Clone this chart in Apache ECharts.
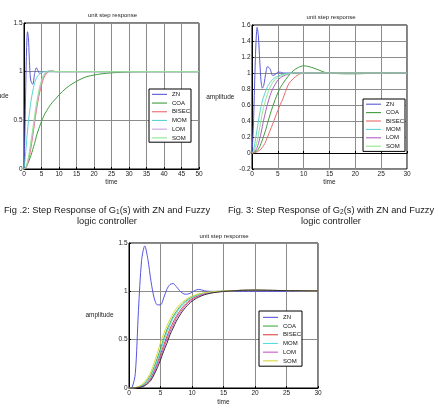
<!DOCTYPE html>
<html>
<head>
<meta charset="utf-8">
<script src="https://cdn.jsdelivr.net/npm/echarts@6/dist/echarts.min.js"></script>
<style>
  html, body { margin: 0; padding: 0; background: #fff; }
  #chart { width: 439px; height: 417px; }
</style>
</head>
<body>
<div id="chart"></div>
<script>
// ---- data ----
var legendNames = ['ZN', 'COA', 'BISEC', 'MOM', 'LOM', 'SOM'];

// Fig 2 : G1(s)
var t1 = [0, 0.25, 0.5, 0.75, 1, 1.25, 1.5, 1.75, 2, 2.5, 3, 3.5, 4, 4.5, 5, 5.5, 6, 6.5, 7, 8, 9, 10, 12, 14, 16, 18, 20, 22, 25, 30, 35, 40, 50];
var zn1 = [0, 0.35, 0.85, 1.25, 1.41, 1.35, 1.15, 0.97, 0.9, 0.87, 0.97, 1.04, 1.01, 0.98, 0.99, 1, 1, 1, 1, 1, 1, 1, 1, 1, 1, 1, 1, 1, 1, 1, 1, 1, 1];
var coa1 = [0, 0.005, 0.015, 0.03, 0.05, 0.07, 0.09, 0.115, 0.14, 0.2, 0.26, 0.33, 0.39, 0.44, 0.49, 0.53, 0.57, 0.6, 0.63, 0.68, 0.72, 0.76, 0.83, 0.88, 0.92, 0.95, 0.965, 0.977, 0.988, 0.997, 1, 1, 1];
var bisec1 = [0, 0.003, 0.01, 0.025, 0.05, 0.08, 0.12, 0.17, 0.22, 0.34, 0.47, 0.59, 0.7, 0.79, 0.86, 0.92, 0.96, 0.985, 1.0, 1.01, 1.0, 1, 1, 1, 1, 1, 1, 1, 1, 1, 1, 1, 1];
var mom1 = [0, 0.08, 0.18, 0.29, 0.39, 0.48, 0.56, 0.63, 0.7, 0.8, 0.88, 0.93, 0.96, 0.98, 0.99, 1.0, 1.0, 1.0, 1.0, 1, 1, 1, 1, 1, 1, 1, 1, 1, 1, 1, 1, 1, 1];
var lom1 = [0, 0.004, 0.015, 0.035, 0.065, 0.1, 0.145, 0.2, 0.25, 0.37, 0.5, 0.62, 0.73, 0.82, 0.89, 0.94, 0.975, 0.995, 1.005, 1.01, 1.0, 1, 1, 1, 1, 1, 1, 1, 1, 1, 1, 1, 1];
var som1 = [0, 0.006, 0.02, 0.045, 0.08, 0.12, 0.17, 0.23, 0.29, 0.41, 0.54, 0.66, 0.76, 0.85, 0.91, 0.96, 0.985, 1.0, 1.01, 1.005, 1.0, 1, 1, 1, 1, 1, 1, 1, 1, 1, 1, 1, 1];

// Fig 3 : G2(s)
var t2 = [0, 0.25, 0.5, 0.75, 1, 1.25, 1.5, 1.75, 2, 2.25, 2.5, 2.75, 3, 3.5, 4, 4.5, 5, 5.5, 6, 7, 8, 9, 10, 11, 12, 13, 14, 15, 16, 18, 20, 25, 30];
var zn2 = [0, 0.3, 0.85, 1.35, 1.57, 1.45, 1.15, 0.9, 0.81, 0.84, 0.93, 1.03, 1.08, 1.05, 0.97, 0.98, 1.01, 1.01, 1.0, 1.0, 1, 1, 1, 1, 1, 1, 1, 1, 1, 1, 1, 1, 1];
var coa2 = [0, 0.003, 0.01, 0.02, 0.03, 0.05, 0.08, 0.12, 0.16, 0.21, 0.26, 0.31, 0.37, 0.48, 0.58, 0.67, 0.75, 0.82, 0.87, 0.96, 1.03, 1.07, 1.09, 1.08, 1.06, 1.035, 1.01, 1.0, 0.995, 0.99, 0.99, 1.0, 1.0];
var bisec2 = [0, 0.001, 0.004, 0.008, 0.015, 0.025, 0.035, 0.05, 0.07, 0.095, 0.12, 0.16, 0.2, 0.28, 0.36, 0.45, 0.53, 0.61, 0.68, 0.85, 0.93, 0.98, 1.0, 1, 1, 1, 1, 1, 1, 1, 1, 1, 1];
var mom2 = [0, 0.03, 0.1, 0.2, 0.3, 0.4, 0.5, 0.58, 0.65, 0.7, 0.75, 0.79, 0.83, 0.88, 0.92, 0.945, 0.96, 0.975, 0.985, 0.995, 1, 1, 1, 1, 1, 1, 1, 1, 1, 1, 1, 1, 1];
var lom2 = [0, 0.005, 0.02, 0.04, 0.07, 0.12, 0.18, 0.25, 0.33, 0.41, 0.48, 0.55, 0.61, 0.72, 0.8, 0.86, 0.91, 0.94, 0.96, 0.985, 1.0, 1, 1, 1, 1, 1, 1, 1, 1, 1, 1, 1, 1];
var som2 = [0, 0.01, 0.04, 0.09, 0.15, 0.23, 0.32, 0.41, 0.5, 0.57, 0.63, 0.69, 0.74, 0.82, 0.88, 0.92, 0.94, 0.96, 0.975, 0.99, 1.0, 1, 1, 1, 1, 1, 1, 1, 1, 1, 1, 1, 1];

// third plot
var t3 = [0, 0.5, 1, 1.5, 2, 2.5, 3, 3.5, 4, 4.5, 5, 5.5, 6, 6.5, 7, 7.5, 8, 8.5, 9, 9.5, 10, 10.5, 11, 11.5, 12, 13, 14, 15, 16, 17, 18, 20, 22, 25, 30];
var zn3 = [0, 0.01, 0.15, 0.8, 1.32, 1.47, 1.33, 1.1, 0.93, 0.86, 0.86, 0.93, 1.02, 1.07, 1.08, 1.05, 1.01, 0.98, 0.97, 0.975, 0.99, 1.01, 1.02, 1.015, 1.005, 1.0, 1, 1, 1, 1, 1, 1, 1, 1, 1];
var coa3 = [0, 0, 0.003, 0.01, 0.025, 0.05, 0.09, 0.14, 0.22, 0.31, 0.41, 0.51, 0.6, 0.67, 0.74, 0.79, 0.835, 0.87, 0.9, 0.922, 0.94, 0.954, 0.966, 0.975, 0.982, 0.992, 0.998, 1.002, 1.005, 1.008, 1.01, 1.012, 1.01, 1.008, 1.005];
var bisec3 = [0, 0, 0.002, 0.006, 0.016, 0.035, 0.066, 0.11, 0.18, 0.26, 0.35, 0.44, 0.53, 0.61, 0.68, 0.74, 0.79, 0.835, 0.87, 0.9, 0.922, 0.94, 0.955, 0.967, 0.976, 0.988, 0.996, 1.0, 1.005, 1.008, 1.01, 1.012, 1.01, 1.008, 1.005];
var mom3 = [0, 0, 0.002, 0.008, 0.02, 0.042, 0.078, 0.125, 0.2, 0.285, 0.38, 0.48, 0.57, 0.65, 0.72, 0.77, 0.82, 0.86, 0.89, 0.915, 0.935, 0.95, 0.963, 0.973, 0.98, 0.99, 0.997, 1.001, 1.005, 1.008, 1.01, 1.012, 1.01, 1.008, 1.005];
var lom3 = [0, 0, 0.001, 0.005, 0.013, 0.029, 0.056, 0.095, 0.16, 0.24, 0.32, 0.41, 0.5, 0.58, 0.65, 0.72, 0.77, 0.815, 0.855, 0.888, 0.912, 0.932, 0.948, 0.961, 0.971, 0.985, 0.994, 0.999, 1.004, 1.008, 1.01, 1.012, 1.01, 1.008, 1.005];
var som3 = [0, 0, 0.005, 0.015, 0.035, 0.065, 0.11, 0.17, 0.26, 0.36, 0.47, 0.56, 0.64, 0.71, 0.77, 0.82, 0.86, 0.89, 0.915, 0.935, 0.95, 0.962, 0.972, 0.98, 0.986, 0.994, 0.999, 1.002, 1.005, 1.008, 1.01, 1.012, 1.01, 1.008, 1.005];
var k3 = [0, 0, 0.001, 0.004, 0.011, 0.024, 0.047, 0.082, 0.14, 0.21, 0.29, 0.38, 0.46, 0.55, 0.62, 0.69, 0.745, 0.795, 0.835, 0.87, 0.897, 0.92, 0.938, 0.953, 0.965, 0.981, 0.992, 0.998, 1.003, 1.007, 1.01, 1.012, 1.01, 1.008, 1.005];

var colors12 = ['#5a5ad6', '#3f9b3f', '#e86a6a', '#5fd3d3', '#c9a0e0', '#8fe88f'];
var colors2 = ['#5a5ad6', '#3f9b3f', '#e86a6a', '#5fd3d3', '#b05cc8', '#8fe88f'];
var colors3 = ['#5555dd', '#44aa44', '#dd4444', '#55dddd', '#cc55cc', '#d6d63a', '#333333'];

var FONT = 'Liberation Sans';

function pairs(t, y) {
    return t.map(function (v, i) { return [v, y[i]]; });
}

function line(name, idx, t, y, color) {
    return {
        name: name,
        type: 'line',
        xAxisIndex: idx,
        yAxisIndex: idx,
        data: pairs(t, y),
        symbol: 'none',
        showSymbol: false,
        smooth: 0.3,
        color: color,
        lineStyle: { width: 1, color: color },
        emphasis: { disabled: true },
        silent: true
    };
}

function xAx(idx, max, gap) {
    return {
        type: 'value', gridIndex: idx, min: 0, max: max, interval: 5,
        name: 'time', nameLocation: 'middle', nameGap: gap,
        nameTextStyle: { fontSize: 6.5, color: '#222', fontFamily: FONT },
        axisLine: { lineStyle: { color: '#000', width: 1 } },
        axisTick: { inside: true, length: 2, lineStyle: { color: '#000' } },
        axisLabel: { fontSize: 6.5, color: '#222', margin: 2, fontFamily: FONT, interval: 0 },
        splitLine: { show: true, lineStyle: { color: '#8c8c8c', width: 1 } }
    };
}

function yAx(idx, min, max, step, gap, shift) {
    return {
        type: 'value', gridIndex: idx, min: min, max: max, interval: step,
        name: 'amplitude', nameLocation: 'middle', nameRotate: 0, nameGap: gap,
        nameTextStyle: { fontSize: 6.5, color: '#222', fontFamily: FONT, padding: [0, 0, shift, 0] },
        axisLine: { lineStyle: { color: '#000', width: 1 } },
        axisTick: { inside: true, length: 2, lineStyle: { color: '#000' } },
        axisLabel: { fontSize: 6.5, color: '#222', margin: 1.5, fontFamily: FONT },
        splitLine: { show: true, lineStyle: { color: '#8c8c8c', width: 1 } }
    };
}

function legendFor(suffix, left, top, h, pad) {
    return {
        data: legendNames.map(function (n) { return n + suffix; }),
        formatter: function (name) { return name.split('#')[0]; },
        orient: 'vertical',
        left: left, top: top,
        icon: 'path://M0,0h15v1.1h-15z',
        itemWidth: 15, itemHeight: h, itemGap: 0,
        padding: pad,
        borderColor: '#000', borderWidth: 1, backgroundColor: '#fff',
        selectedMode: false,
        textStyle: { fontSize: 6, color: '#111', fontFamily: FONT, lineHeight: h }
    };
}

function plotTitle(text, x, y) {
    return {
        text: text, left: x, top: y, textAlign: 'center', padding: 0,
        textStyle: { fontSize: 6, fontWeight: 'normal', color: '#222', fontFamily: FONT, lineHeight: 6 }
    };
}

function caption(text, x, y) {
    return {
        text: text, left: x, top: y, textAlign: 'center', padding: 0,
        textStyle: {
            fontSize: 9.3, fontWeight: 'normal', color: '#1a1a1a', fontFamily: FONT, lineHeight: 10.3,
            rich: { s: { fontSize: 6.5, lineHeight: 6, verticalAlign: 'bottom', fontFamily: FONT, color: '#1a1a1a' } }
        }
    };
}

function gridBox(left, top, w, h) {
    return {
        left: left, top: top, width: w, height: h,
        outerBoundsMode: 'none', containLabel: false,
        show: true, borderColor: '#000', borderWidth: 1, backgroundColor: 'transparent'
    };
}

var series = [];
var ys1 = [zn1, coa1, bisec1, mom1, lom1, som1];
var ys2 = [zn2, coa2, bisec2, mom2, lom2, som2];
var ys3 = [zn3, coa3, bisec3, mom3, lom3, som3];
legendNames.forEach(function (n, i) {
    series.push(line(n + '#1', 0, t1, ys1[i], colors12[i]));
});
legendNames.forEach(function (n, i) {
    series.push(line(n + '#2', 1, t2, ys2[i], colors2[i]));
});
legendNames.forEach(function (n, i) {
    series.push(line(n + '#3', 2, t3, ys3[i], colors3[i]));
});
series.push(line('K#3', 2, t3, k3, colors3[6]));

var chart = echarts.init(document.getElementById('chart'), null, { renderer: 'canvas' });
var option = {
    animation: false,
    backgroundColor: '#fff',
    title: [
        plotTitle('unit step response', 112.5, 12.7),
        plotTitle('unit step response', 331, 14.5),
        plotTitle('unit step response', 224, 233),
        caption('Fig .2: Step Response of G{s|1}(s) with ZN and Fuzzy\nlogic controller', 107, 205.5),
        caption('Fig. 3: Step Response of G{s|2}(s) with ZN and Fuzzy\nlogic controller', 331, 205.5)
    ],
    grid: [
        gridBox(24, 23, 175, 146),
        gridBox(252, 25, 155, 144),
        gridBox(129, 243, 189, 145)
    ],
    xAxis: [xAx(0, 50, 10), xAx(1, 30, 9.7), xAx(2, 30, 10.4)],
    yAxis: [yAx(0, 0, 1.5, 0.5, 4, 8), yAx(1, -0.2, 1.6, 0.2, 0, 6), yAx(2, 0, 1.5, 0.5, 2, 14)],
    legend: [
        legendFor('#1', 149, 89, 8.7, [1, 1, 0, 3]),
        legendFor('#2', 363, 99, 8.4, [1, 1, 1, 3]),
        legendFor('#3', 259, 311, 8.7, [2, 1, 1, 4])
    ],
    series: series
};
chart.setOption(option);
</script>
</body>
</html>
